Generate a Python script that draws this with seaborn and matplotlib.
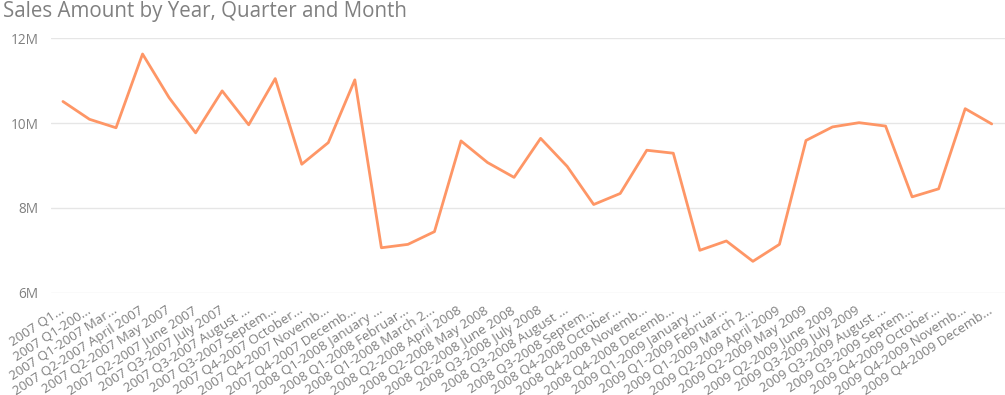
import matplotlib
matplotlib.use("Agg")
import matplotlib.pyplot as plt
import seaborn as sns
import pandas as pd
from matplotlib.ticker import FuncFormatter, FixedLocator

labels = [
    "2007 Q1...", "2007 Q1-200...", "2007 Q1-2007 Mar...",
    "2007 Q2-2007 April 2007", "2007 Q2-2007 May 2007", "2007 Q2-2007 June 2007",
    "2007 Q3-2007 July 2007", "2007 Q3-2007 August ...", "2007 Q3-2007 Septem...",
    "2007 Q4-2007 October...", "2007 Q4-2007 Novemb...", "2007 Q4-2007 Decemb...",
    "2008 Q1-2008 January ...", "2008 Q1-2008 Februar...", "2008 Q1-2008 March 2...",
    "2008 Q2-2008 April 2008", "2008 Q2-2008 May 2008", "2008 Q2-2008 June 2008",
    "2008 Q3-2008 July 2008", "2008 Q3-2008 August ...", "2008 Q3-2008 Septem...",
    "2008 Q4-2008 October...", "2008 Q4-2008 Novemb...", "2008 Q4-2008 Decemb...",
    "2009 Q1-2009 January ...", "2009 Q1-2009 Februar...", "2009 Q1-2009 March 2...",
    "2009 Q2-2009 April 2009", "2009 Q2-2009 May 2009", "2009 Q2-2009 June 2009",
    "2009 Q3-2009 July 2009", "2009 Q3-2009 August ...", "2009 Q3-2009 Septem...",
    "2009 Q4-2009 October...", "2009 Q4-2009 Novemb...", "2009 Q4-2009 Decemb...",
]

sales_millions = [
    10.51, 10.09, 9.89, 11.63, 10.60, 9.77, 10.76, 9.96, 11.05, 9.03, 9.54, 11.02,
    7.06, 7.14, 7.44, 9.58, 9.07, 8.72, 9.64, 8.98, 8.08, 8.34, 9.36, 9.29,
    7.00, 7.22, 6.74, 7.14, 9.59, 9.91, 10.01, 9.93, 8.26, 8.45, 10.34, 9.98,
]

title = "Sales Amount by Year, Quarter and Month"
y_ticks = [6e6, 8e6, 10e6, 12e6]

sns.set_theme(style="white")
plt.rcParams["font.family"] = ["Open Sans", "DejaVu Sans"]

df = pd.DataFrame({
    "idx": list(range(len(labels))),
    "label": labels,
    "sales": [v * 1e6 for v in sales_millions],
})

fig = plt.figure(figsize=(10.05, 3.95), dpi=100)
ax = fig.add_axes([51 / 1005, 1 - 292.7 / 395, 1 - 51 / 1005, (292.7 - 38.3) / 395])

sns.lineplot(data=df, x="idx", y="sales", sort=False, color="#FE9666",
             linewidth=2.0, ax=ax, clip_on=False)

ax.set_xlim(-0.45, len(labels) - 0.5)
ax.set_ylim(6e6, 12e6)
ax.yaxis.set_major_locator(FixedLocator(y_ticks))
ax.yaxis.set_major_formatter(FuncFormatter(lambda v, p: f"{v/1e6:.0f}M"))
ax.set_xticks(df["idx"])
ax.set_xticklabels(df["label"], rotation=33, ha="right", va="center",
                   rotation_mode="anchor")
ax.tick_params(axis="x", length=0, pad=12, labelsize=9.6, labelcolor="#808080")
ax.tick_params(axis="y", length=0, pad=9, labelsize=9.8, labelcolor="#808080")
ax.grid(axis="y", color="#E6E6E6", linewidth=1.0)
ax.grid(axis="x", visible=False)
for s in ax.spines.values():
    s.set_visible(False)
ax.set_xlabel("")
ax.set_ylabel("")

fig.text(0.003, 0.997, title, ha="left", va="top", fontsize=14.8, color="#808080")

fig.savefig("out.png", dpi=100)
